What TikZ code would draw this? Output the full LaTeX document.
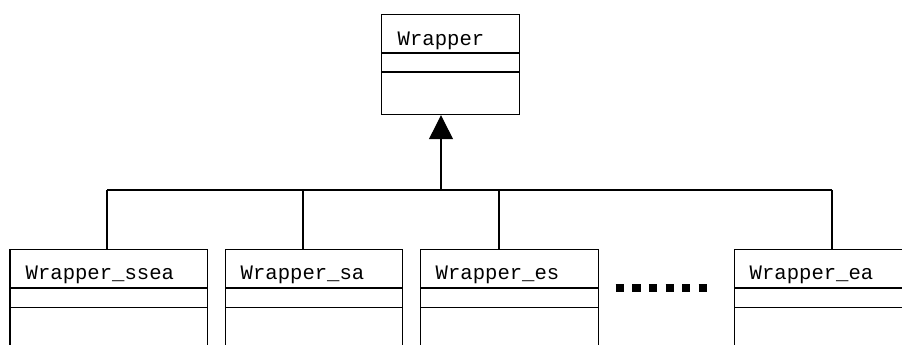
\documentclass[tikz,border=0pt]{standalone}
\usepackage{fontspec}
\setmonofont{Liberation Mono}
\usetikzlibrary{arrows.meta}
\tikzset{
  cls/.style={draw, line width=1.2pt, rectangle, inner sep=0pt, anchor=north west},
  cname/.style={font=\ttfamily\fontsize{20.6}{20.6}\selectfont, anchor=base west, inner sep=0pt},
  sep/.style={line width=1.2pt},
  conn/.style={line width=1.2pt},
}
\begin{document}
\begin{tikzpicture}[x=1pt,y=1pt]
\useasboundingbox (0,0) rectangle (902,345);
\clip (0,0) rectangle (902,345);
% top class
\node[cls, minimum width=138pt, minimum height=100pt] (top) at (381,331) {};
\node[cname] (topname) at (397.5,299) {Wrapper};
\draw[sep] (top.west |- 0,292) -- (top.east |- 0,292);
\draw[sep] (top.west |- 0,273) -- (top.east |- 0,273);
% lower classes
\node[cls, minimum width=197.4pt, minimum height=130pt] (c1) at (9.3,96) {};
\node[cls, minimum width=177pt, minimum height=130pt] (c2) at (225,96) {};
\node[cls, minimum width=178pt, minimum height=130pt] (c3) at (420,96) {};
\node[cls, minimum width=197pt, minimum height=130pt] (c5) at (734,96) {};
\node[cname] (n1) at (25.5,65) {Wrapper\_ssea};
\node[cname] (n2) at (240.5,65) {Wrapper\_sa};
\node[cname] (n3) at (435.5,65) {Wrapper\_es};
\node[cname] (n5) at (749.5,65) {Wrapper\_ea};
\foreach \c in {c1,c2,c3,c5}{
  \draw[sep] (\c.west |- 0,57) -- (\c.east |- 0,57);
  \draw[sep] (\c.west |- 0,37.3) -- (\c.east |- 0,37.3);
}
% ellipsis
\coordinate (dl) at (615.7,57);
\coordinate (dr) at (707,57);
\draw[line width=8.3pt, dash pattern=on 8.3pt off 8.3pt] (dl) -- (dr);
% connectors
\coordinate (hub) at (441,155);
\coordinate (b1) at (107,155);
\coordinate (b2) at (303,155);
\coordinate (b3) at (499,155);
\coordinate (b5) at (832,155);
\draw[conn] (b1) -- (b5);
\draw[conn, -{Triangle[width=24pt,length=24pt]}] (hub) -- (hub |- top.south);
\draw[conn] (b1) -- (b1 |- c1.north);
\draw[conn] (b2) -- (b2 |- c2.north);
\draw[conn] (b3) -- (b3 |- c3.north);
\draw[conn] (b5) -- (b5 |- c5.north);
\end{tikzpicture}
\end{document}
